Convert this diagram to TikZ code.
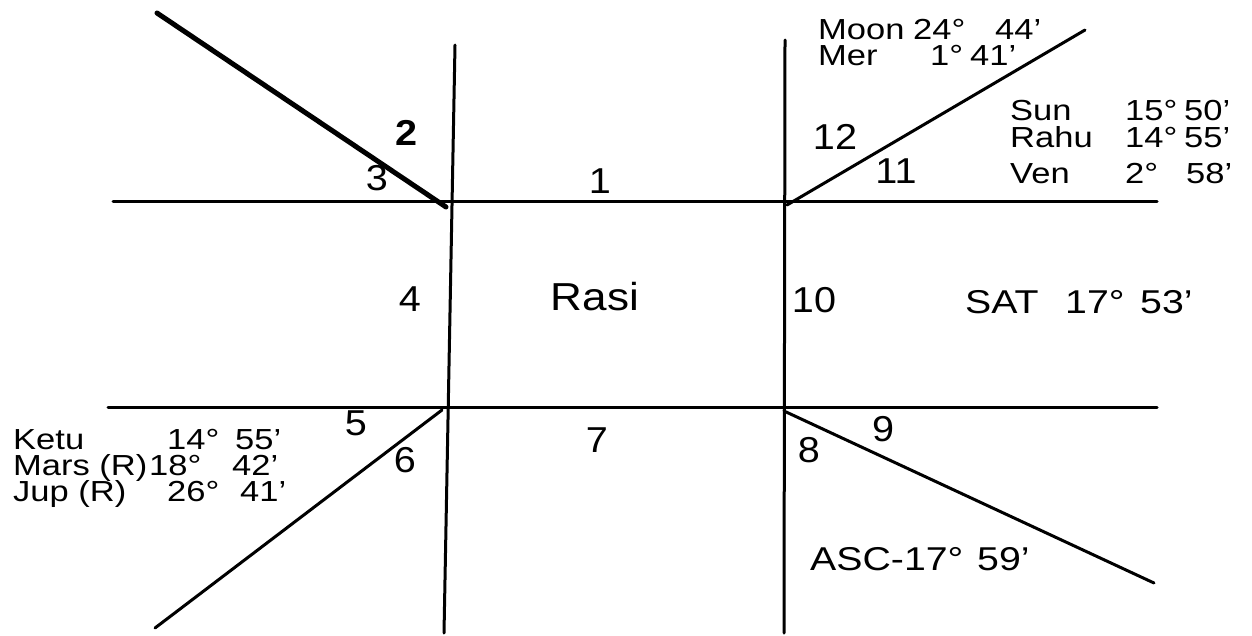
\documentclass[tikz,border=0pt]{standalone}
\usepackage{fontspec}
\setmainfont{Liberation Sans}
\newcommand\hsn[1]{\scalebox{1.1}[1]{#1}}
\newcommand\hsp[1]{\scalebox{1.19}[1]{#1}}
\newcommand\hsr[1]{\scalebox{1.13}[1]{#1}}
\begin{document}
\begin{tikzpicture}[x=1pt,y=-1pt,
  gridline/.style={line width=3pt, line cap=round},
  heavyline/.style={line width=5pt, line cap=round},
  num/.style={inner sep=0pt, font=\fontsize{36}{40}\selectfont},
  pl/.style={inner sep=0pt, anchor=base west, font=\fontsize{29}{33}\selectfont},
  plbig/.style={inner sep=0pt, anchor=base west, font=\fontsize{33}{37}\selectfont},
  rasi/.style={inner sep=0pt, font=\fontsize{39}{43}\selectfont}]
\useasboundingbox (0,0) rectangle (1252,635);
% frame coordinates
\coordinate (hTL) at (113,201);
\coordinate (hTR) at (1157,201);
\coordinate (hBL) at (108,407);
\coordinate (hBR) at (1157,407);
\coordinate (vLT) at (455,45);
\coordinate (vLB) at (444,633);
\coordinate (vRT) at (785,40);
\coordinate (vRB) at (784,633);
\coordinate (cTL) at (446,207);
\coordinate (cTR) at (787,205);
\coordinate (cBL) at (442,410);
\coordinate (cBR) at (784,411);
\coordinate (dTL) at (157,13);
\coordinate (dTR) at (1085,30);
\coordinate (dBL) at (155,628);
\coordinate (dBR) at (1154,583);
% lines
\draw[gridline] (hTL) -- (hTR);
\draw[gridline] (hBL) -- (hBR);
\draw[gridline] (vLT) -- (vLB);
\draw[gridline] (vRT) -- (vRB);
\draw[heavyline] (dTL) -- (cTL);
\draw[gridline] (cTR) -- (dTR);
\draw[gridline] (cBL) -- (dBL);
\draw[gridline] (cBR) -- (dBR);
% house numbers
\node[num] (n1) at (600,181) {\hsn{1}};
\node[num,font=\fontsize{36}{40}\selectfont\bfseries] (n2) at (407,133) {\hsn{2}};
\node[num] (n3) at (377,178) {\hsn{3}};
\node[num] (n4) at (410,299) {\hsn{4}};
\node[num] (n5) at (356,423) {\hsn{5}};
\node[num] (n6) at (405,460) {\hsn{6}};
\node[num] (n7) at (597,440) {\hsn{7}};
\node[num] (n8) at (809,450) {\hsn{8}};
\node[num] (n9) at (883,429) {\hsn{9}};
\node[num] (n10) at (814,300) {\hsn{10}};
\node[num] (n11) at (896,171) {\hsn{11}};
\node[num] (n12) at (835,137) {\hsn{12}};
\node[rasi] (rasi) at (595,297) {\hsr{Rasi}};
% top right planets
\node[pl] (moonA) at (818,39) {\hsp{Moon}};
\node[pl] (moonB) at (913,39) {\hsp{24°}};
\node[pl] (moonC) at (995,39) {\hsp{44’}};
\node[pl] (merA) at (818,65) {\hsp{Mer}};
\node[pl] (merB) at (930,65) {\hsp{1°}};
\node[pl] (merC) at (970,65) {\hsp{41’}};
\node[pl] (sunA) at (1010,120) {\hsp{Sun}};
\node[pl] (sunB) at (1125,120) {\hsp{15°}};
\node[pl] (sunC) at (1184,120) {\hsp{50’}};
\node[pl] (rahuA) at (1010,147) {\hsp{Rahu}};
\node[pl] (rahuB) at (1125,147) {\hsp{14°}};
\node[pl] (rahuC) at (1184,147) {\hsp{55’}};
\node[pl] (venA) at (1010,183) {\hsp{Ven}};
\node[pl] (venB) at (1125,183) {\hsp{2°}};
\node[pl] (venC) at (1186,183) {\hsp{58’}};
% Saturn
\node[plbig] (satA) at (965,313) {\hsp{SAT}};
\node[plbig] (satB) at (1065,313) {\hsp{17°}};
\node[plbig] (satC) at (1140,313) {\hsp{53’}};
% bottom left planets
\node[pl] (ketuA) at (13,449) {\hsp{Ketu}};
\node[pl] (ketuB) at (167,449) {\hsp{14°}};
\node[pl] (ketuC) at (235,449) {\hsp{55’}};
\node[pl] (marsA) at (13,475) {\hsp{Mars (R)}};
\node[pl] (marsB) at (149,475) {\hsp{18°}};
\node[pl] (marsC) at (232,475) {\hsp{42’}};
\node[pl] (jupA) at (13,501) {\hsp{Jup (R)}};
\node[pl] (jupB) at (167,501) {\hsp{26°}};
\node[pl] (jupC) at (240,501) {\hsp{41’}};
% ascendant
\node[plbig] (ascA) at (810,570) {\hsp{ASC-17°}};
\node[plbig] (ascB) at (977,570) {\hsp{59’}};
\end{tikzpicture}
\end{document}
